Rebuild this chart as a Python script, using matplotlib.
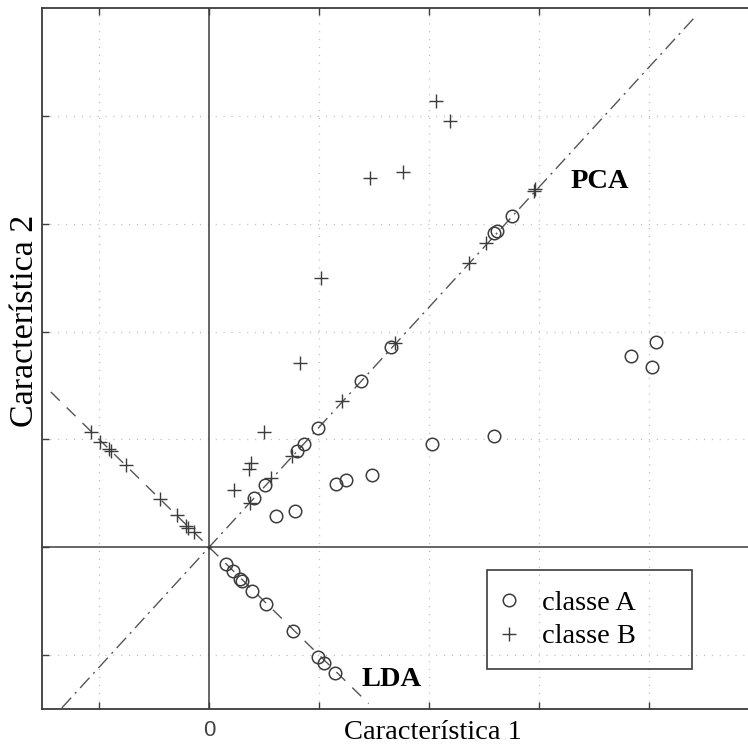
import matplotlib
matplotlib.use("Agg")
import matplotlib.pyplot as plt

# original samples
a_x = [0.61, 0.78, 1.15, 1.24, 1.48, 2.03, 2.59, 3.84, 4.06, 4.03]
a_y = [0.29, 0.34, 0.59, 0.62, 0.67, 0.96, 1.03, 1.77, 1.90, 1.67]
b_x = [0.23, 0.36, 0.38, 0.50, 0.83, 1.02, 1.46, 1.76, 2.06, 2.19]
b_y = [0.53, 0.73, 0.78, 1.07, 1.71, 2.50, 3.42, 3.48, 4.14, 3.95]

# projections on the PCA axis
a_pca_x = [0.41, 0.51, 0.80, 0.86, 0.99, 1.38, 1.65, 2.59, 2.62, 2.75]
a_pca_y = [0.46, 0.58, 0.89, 0.96, 1.11, 1.54, 1.86, 2.91, 2.93, 3.07]
b_pca_x = [0.37, 0.56, 0.75, 1.21, 1.69, 2.36, 2.52, 2.95, 2.96]
b_pca_y = [0.41, 0.64, 0.85, 1.36, 1.89, 2.64, 2.82, 3.30, 3.32]

# projections on the LDA axis
a_lda_x = [0.15, 0.22, 0.28, 0.30, 0.39, 0.52, 0.76, 0.99, 1.04, 1.14]
a_lda_y = [-0.16, -0.22, -0.29, -0.31, -0.41, -0.53, -0.78, -1.02, -1.07, -1.17]
b_lda_x = [-1.07, -0.99, -0.91, -0.89, -0.76, -0.45, -0.29, -0.21, -0.19, -0.14]
b_lda_y = [1.07, 0.98, 0.91, 0.89, 0.76, 0.45, 0.30, 0.20, 0.18, 0.14]

# the two directions (segment end points)
pca_x = [-1.34, 4.43]
pca_y = [-1.49, 4.93]
lda_x = [-1.44, 1.45]
lda_y = [1.44, -1.45]

ticks = [-1, 0, 1, 2, 3, 4]
xtick_labels = ["", "0", "", "", "", ""]

INK = "#3c3c3c"
SERIF = "Liberation Serif"

fig = plt.figure(figsize=(7.48, 7.45), dpi=100)
ax = fig.add_axes([42/748, 36/745, 717/748, 701/745])

# grid, zero lines
for t in ticks:
    if t != 0:
        ax.axvline(t, color="#b4b4b4", lw=0.9, dashes=(0.8, 5.5), zorder=0)
        ax.axhline(t, color="#b4b4b4", lw=0.9, dashes=(0.8, 5.5), zorder=0)
ax.axvline(0, color=INK, lw=1.1, zorder=1)
ax.axhline(0, color=INK, lw=1.1, zorder=1)

ax.plot(pca_x, pca_y, color="#555555", lw=1.0, dashes=(10, 4, 1.5, 4), zorder=2)
ax.plot(lda_x, lda_y, color="#555555", lw=1.0, dashes=(9, 7), zorder=2)
ax.plot([0], [0], ".", color=INK, ms=4)

mk_a = dict(ls="none", marker="o", ms=9, mfc="none", mec=INK, mew=1.1, zorder=3)
mk_b = dict(ls="none", marker="+", ms=10, color=INK, mew=1.0, zorder=3)

ax.plot(a_x, a_y, label="classe A", **mk_a)
ax.plot(b_x, b_y, label="classe B", **mk_b)
ax.plot(a_pca_x, a_pca_y, **mk_a)
ax.plot(b_pca_x, b_pca_y, **mk_b)
ax.plot(a_lda_x, a_lda_y, **mk_a)
ax.plot(b_lda_x, b_lda_y, **mk_b)

ax.text(3.55, 3.39, "PCA", family=SERIF, weight="bold", fontsize=20.5,
        ha="center", va="center", color="black")
ax.text(1.66, -1.23, "LDA", family=SERIF, weight="bold", fontsize=20.5,
        ha="center", va="center", color="black")

ax.set_xlim(-1.52, 5.0)
ax.set_ylim(-1.5, 5.0)
ax.set_xticks(ticks)
ax.set_xticklabels(xtick_labels, family="Liberation Sans", fontsize=16, color="#444444")
ax.set_yticks(ticks)
ax.set_yticklabels([])
ax.tick_params(direction="in", length=5, width=1, color=INK, top=True, right=False, pad=8)
for s in ax.spines.values():
    s.set_color(INK)
    s.set_linewidth(1.3)

ax.set_xlabel("Característica 1", family=SERIF, fontsize=20.5, va="center")
ax.xaxis.set_label_coords(0.545, -0.034)
ax.set_ylabel("Característica 2", family=SERIF, fontsize=24.5, va="center")
ax.yaxis.set_label_coords(-0.0237, 0.5535)

leg = ax.legend(loc="upper left", bbox_to_anchor=(0.6206, 0.0583, 0.286, 0.14),
                mode="expand", prop=dict(family=SERIF, size=20.5),
                frameon=True, fancybox=False, framealpha=1, borderpad=0.70,
                handlelength=0.14, handletextpad=1.09, labelspacing=0.27,
                borderaxespad=0)
leg.get_frame().set_facecolor("none")
leg.get_frame().set_edgecolor(INK)
leg.get_frame().set_linewidth(1.2)

fig.savefig("out.png", dpi=100)
